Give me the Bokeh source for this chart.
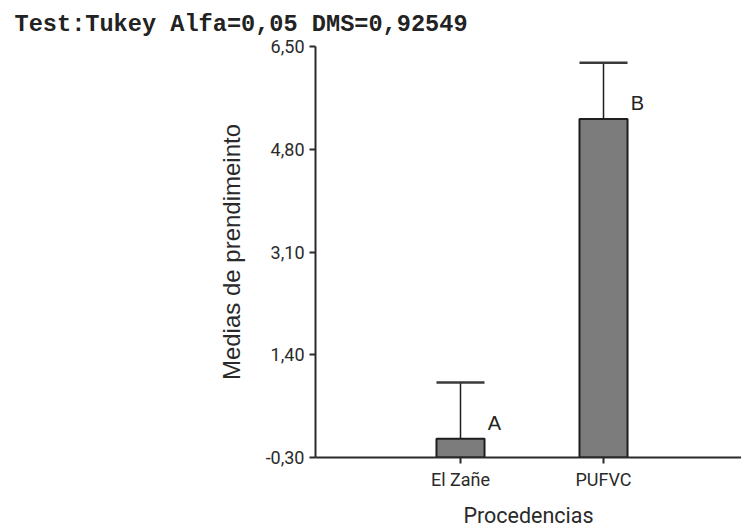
from bokeh.plotting import figure
from bokeh.models import Range1d, FixedTicker, ColumnDataSource
from bokeh.core.properties import value
from bokeh.embed import file_html
from bokeh.resources import INLINE

# Tukey test results: group means, error bar lengths and significance letters
procedencias = ["El Zañe", "PUFVC"]
medias = [0.01, 5.30]
error = [0.93, 0.93]
letras = ["A", "B"]
y_ticks = [-0.30, 1.40, 3.10, 4.80, 6.50]
y_tick_labels = ["-0,30", "1,40", "3,10", "4,80", "6,50"]

x_pos = [i + 1 for i in range(len(procedencias))]
base = y_ticks[0]
bar_w = 0.336

src = ColumnDataSource(dict(
    x=x_pos,
    top=medias,
    upper=[m + e for m, e in zip(medias, error)],
    left=[x - bar_w / 2 for x in x_pos],
    right=[x + bar_w / 2 for x in x_pos],
    letra=letras,
))

p = figure(width=741, height=532, output_backend="svg", toolbar_location=None,
           x_range=Range1d(-0.014, 2.965), y_range=Range1d(y_ticks[0], y_ticks[-1]),
           min_border_left=315, min_border_right=0, min_border_top=46, min_border_bottom=75)
p.outline_line_color = None
p.grid.grid_line_color = None
p.background_fill_color = "white"
p.border_fill_color = "white"

p.title.text = "Test:Tukey Alfa=0,05 DMS=0,92549"
p.title.align = "left"
p.title.offset = -301
p.title.standoff = 17
p.title.text_font = "Liberation Mono"
p.title.text_font_style = "bold"
p.title.text_font_size = "23.6px"
p.title.text_color = "#222222"

# bars
p.vbar(x="x", top="top", bottom=base, width=bar_w, source=src,
       fill_color="#7c7c7c", line_color="#1e1e1e", line_width=2)
# error bars: stem and cap
p.segment(x0="x", y0="top", x1="x", y1="upper", source=src,
          line_color="#1e1e1e", line_width=1.5)
p.segment(x0="left", y0="upper", x1="right", y1="upper", source=src,
          line_color="#3a3a3a", line_width=2.5)
# significance letters
p.text(x="x", y="top", text="letra", source=src, x_offset=34, y_offset=-16,
       text_align="center", text_baseline="middle",
       text_font=value("Liberation Sans"), text_font_size="20px", text_color="#222222")

# axes
tick_font = "Roboto"
for ax in (p.xaxis[0], p.yaxis[0]):
    ax.axis_line_color = "#2a2a2a"
    ax.axis_line_width = 2
    ax.major_tick_line_color = "#2a2a2a"
    ax.major_tick_line_width = 2
    ax.major_tick_in = 0
    ax.major_tick_out = 6
    ax.minor_tick_line_color = None
    ax.major_label_text_font = tick_font
    ax.major_label_text_font_size = "18px"
    ax.major_label_text_color = "#2a2a2a"
    ax.axis_label_text_font_style = "normal"
    ax.axis_label_text_color = "#2a2a2a"

p.yaxis.ticker = FixedTicker(ticks=y_ticks)
p.yaxis.major_label_overrides = {t: l for t, l in zip(y_ticks, y_tick_labels)}
p.yaxis.axis_label = "Medias de prendimeinto"
p.yaxis.axis_label_text_font = "Liberation Sans"
p.yaxis.axis_label_text_font_size = "24px"
p.yaxis.axis_label_standoff = 18
p.yaxis.major_label_standoff = 5

p.xaxis.ticker = FixedTicker(ticks=x_pos)
p.xaxis.major_label_overrides = {x: n for x, n in zip(x_pos, procedencias)}
p.xaxis.axis_label = "Procedencias"
p.xaxis.axis_label_text_font = tick_font
p.xaxis.axis_label_text_font_size = "21.5px"
p.xaxis.axis_label_standoff = 10
p.xaxis.major_label_standoff = 5

open("out.html", "w").write(file_html(p, INLINE))
